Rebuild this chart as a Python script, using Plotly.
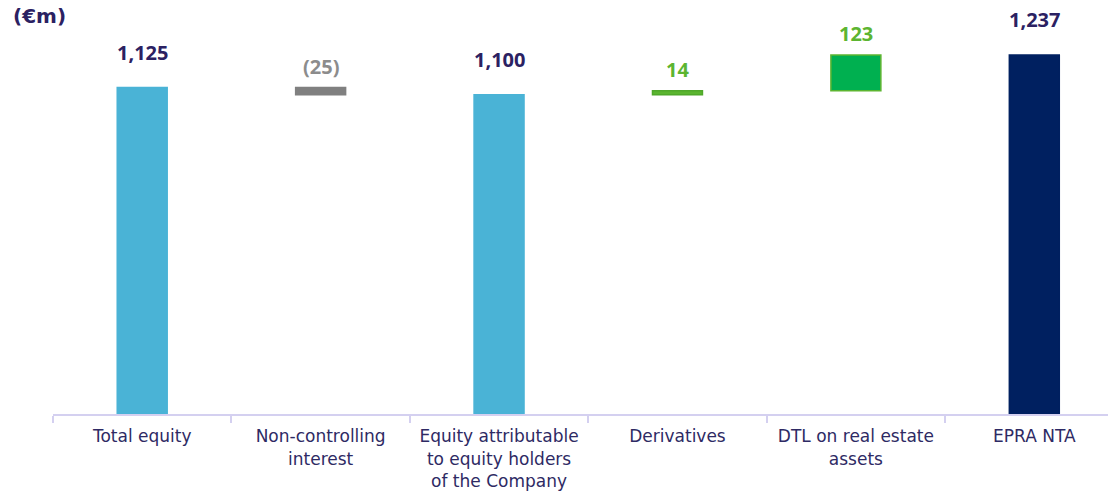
import plotly.graph_objects as go

# Bridge from total equity to EPRA NTA (€m)
categories = [
    "Total equity",
    "Non-controlling<br>interest",
    "Equity attributable<br>to equity holders<br>of the Company",
    "Derivatives",
    "DTL on real estate<br>assets",
    "EPRA NTA",
]
values = [1125, -25, 1100, 14, 123, 1237]
is_total = [True, False, True, False, False, True]
value_labels = ["1,125", "(25)", "1,100", "14", "123", "1,237"]

fill_colors = ["#4ab3d6", "#808080", "#4ab3d6", "#5ab52f", "#00b050", "#002060"]
line_colors = ["#4ab3d6", "#808080", "#4ab3d6", "#4fa82a", "#5cb531", "#002060"]
label_colors = ["#2b2162", "#8c8c8c", "#2b2162", "#5cb531", "#5cb531", "#2b2162"]

# running level: totals start at zero, deltas float from the previous level
bases, heights, tops = [], [], []
level = 0
for v, tot in zip(values, is_total):
    if tot:
        bases.append(0)
        heights.append(v)
        level = v
    else:
        start = level
        level = level + v
        bases.append(min(start, level))
        heights.append(abs(v))
    tops.append(bases[-1] + heights[-1])

fig = go.Figure(
    go.Bar(
        x=categories,
        y=heights,
        base=bases,
        width=0.28,
        marker=dict(color=fill_colors, line=dict(color=line_colors, width=1.5)),
        hoverinfo="skip",
    )
)

FONT = "Open Sans"

for cat, top, txt, col, tot in zip(categories, tops, value_labels, label_colors, is_total):
    fig.add_annotation(
        x=cat, y=top, text=f"<b>{txt}</b>", showarrow=False,
        yanchor="bottom", yshift=20 if tot else 6,
        font=dict(family=FONT, size=20, color=col),
    )

fig.add_annotation(
    xref="paper", yref="paper", x=-0.04, y=1.0,
    xanchor="left", yanchor="top", yshift=-2,
    text="<b>(€m)</b>", showarrow=False,
    font=dict(family="DejaVu Sans", size=20, color="#2b2162"),
)

fig.update_xaxes(
    type="category",
    range=[-0.5, 5.413],
    showline=True, linecolor="#d4d0f0", linewidth=2,
    ticks="outside", ticklen=7, tickcolor="#d4d0f0", tickwidth=2,
    tickson="boundaries",
    ticklabelstandoff=6,
    showgrid=False, zeroline=False,
    tickfont=dict(family="DejaVu Sans", size=17, color="#2e2a64"),
)
fig.update_yaxes(range=[0, 1426.6], visible=False, showgrid=False, zeroline=False)

fig.update_layout(
    width=1108, height=496,
    margin=dict(l=53, r=0, t=0, b=82),
    plot_bgcolor="white", paper_bgcolor="white",
    showlegend=False,
)

fig.write_html("out.html")
